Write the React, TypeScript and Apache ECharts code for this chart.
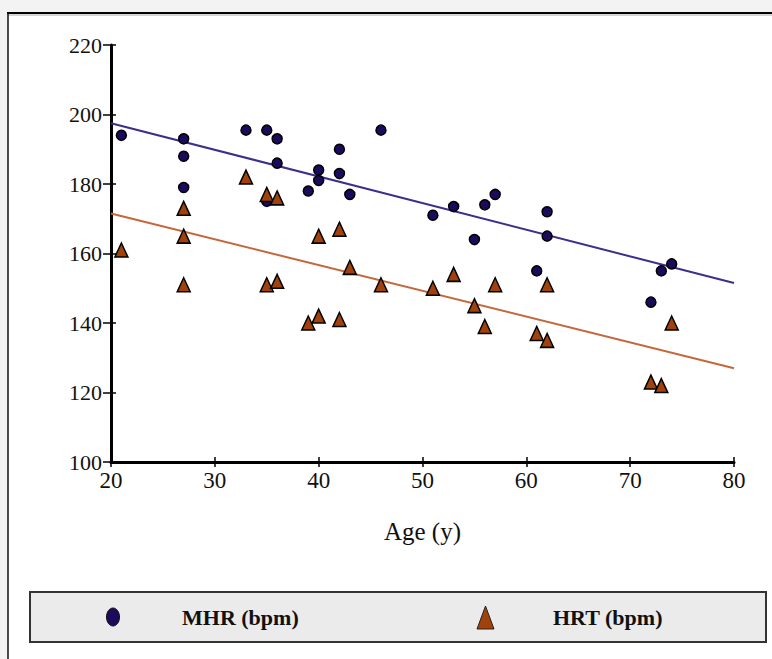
import React, { useEffect, useRef } from "react";
import * as echarts from "echarts";

const xTicks = [20, 30, 40, 50, 60, 70, 80];
const yTicks = [100, 120, 140, 160, 180, 200, 220];

const mhrAge = [21, 27, 27, 27, 33, 35, 35, 36, 36, 39, 40, 40, 42, 42, 43, 46, 51, 53, 55, 56, 57, 61, 62, 62, 72, 73, 74];
const mhrVal = [194, 193, 188, 179, 195.5, 195.5, 175, 193, 186, 178, 184, 181, 190, 183, 177, 195.5, 171, 173.5, 164, 174, 177, 155, 172, 165, 146, 155, 157];

const hrtAge = [21, 27, 27, 27, 33, 35, 35, 36, 36, 39, 40, 40, 42, 42, 43, 46, 51, 53, 55, 56, 57, 61, 62, 62, 72, 73, 74];
const hrtVal = [161, 173, 165, 151, 182, 177, 151, 176, 152, 140, 165, 142, 167, 141, 156, 151, 150, 154, 145, 139, 151, 137, 151, 135, 123, 122, 140];

const mhrTrendX = [20, 80];
const mhrTrendY = [197.5, 151.5];
const hrtTrendX = [20, 80];
const hrtTrendY = [171.5, 127];

const seriesNames = ["MHR (bpm)", "HRT (bpm)"];
const xName = "Age (y)";

const FONT = "'Liberation Serif', 'Times New Roman', serif";

export default function App() {
  const ref = useRef<HTMLDivElement>(null);
  useEffect(() => {
    if (!ref.current) return;
    const chart = echarts.init(ref.current, null, { renderer: "svg" });
    const xMin = xTicks[0];
    const xMax = xTicks[xTicks.length - 1];
    const yMin = yTicks[0];
    const yMax = yTicks[yTicks.length - 1];
    const option: any = {
      animation: false,
      backgroundColor: "#f3f3f3",
      grid: { left: 111, top: 45, width: 623, height: 417 },
      legend: { show: false },
      xAxis: [
        {
          type: "value",
          min: xMin,
          max: xMax,
          interval: 10,
          name: xName,
          nameLocation: "middle",
          nameGap: 57,
          nameTextStyle: { fontFamily: FONT, fontSize: 25, color: "#111" },
          axisLine: { show: true, onZero: false, lineStyle: { color: "#000", width: 3 } },
          axisTick: { show: true, length: 5, lineStyle: { color: "#000", width: 1.5 } },
          axisLabel: { fontFamily: FONT, fontSize: 23, color: "#111", margin: 7 },
          splitLine: { show: false },
        },
        {
          type: "value",
          position: "top",
          offset: -417,
          min: xMin,
          max: xMax,
          interval: 10,
          axisLine: { show: false, onZero: false },
          axisTick: { show: true, length: 5, lineStyle: { color: "#000", width: 1.5 } },
          axisLabel: { show: false },
          splitLine: { show: false },
        },
      ],
      yAxis: [
        {
          type: "value",
          min: yMin,
          max: yMax,
          interval: 20,
          axisLine: { show: true, onZero: false, lineStyle: { color: "#000", width: 3 } },
          axisTick: { show: true, length: 8, lineStyle: { color: "#000", width: 1.5 } },
          axisLabel: { fontFamily: FONT, fontSize: 22, color: "#111", margin: 9 },
          splitLine: { show: false },
        },
        {
          type: "value",
          position: "right",
          offset: -623,
          min: yMin,
          max: yMax,
          interval: 20,
          axisLine: { show: false, onZero: false },
          axisTick: { show: true, length: 5, lineStyle: { color: "#000", width: 1.5 } },
          axisLabel: { show: false },
          splitLine: { show: false },
        },
      ],
      series: [
        {
          name: seriesNames[0] + " trend",
          type: "line",
          data: mhrTrendX.map((x, i) => [x, mhrTrendY[i]]),
          showSymbol: false,
          symbol: "none",
          lineStyle: { color: "#3e2d8a", width: 2 },
          z: 1,
          silent: true,
        },
        {
          name: seriesNames[1] + " trend",
          type: "line",
          data: hrtTrendX.map((x, i) => [x, hrtTrendY[i]]),
          showSymbol: false,
          symbol: "none",
          lineStyle: { color: "#c4683c", width: 2 },
          z: 1,
          silent: true,
        },
        {
          name: seriesNames[0],
          type: "scatter",
          data: mhrAge.map((x, i) => [x, mhrVal[i]]),
          symbol: "circle",
          symbolSize: 10,
          itemStyle: { color: "#1c0b5c", borderColor: "#000", borderWidth: 1.5, opacity: 1 },
          z: 3,
        },
        {
          name: seriesNames[1],
          type: "scatter",
          data: hrtAge.map((x, i) => [x, hrtVal[i]]),
          symbol: "triangle",
          symbolSize: [13, 14],
          itemStyle: { color: "#a1410b", borderColor: "#000", borderWidth: 1.5, opacity: 1 },
          z: 4,
        },
      ],
      graphic: [
        {
          type: "rect",
          z: -10,
          shape: { x: 8, y: 13, width: 800, height: 700 },
          style: { fill: "#ffffff", stroke: null },
          silent: true,
        },
        {
          type: "line",
          z: -5,
          shape: { x1: 8, y1: 15, x2: 772, y2: 15 },
          style: { stroke: "#aaaaaa", lineWidth: 1 },
          silent: true,
        },
        {
          type: "line",
          z: -5,
          shape: { x1: 7, y1: 13, x2: 772, y2: 13 },
          style: { stroke: "#000", lineWidth: 2 },
          silent: true,
        },
        {
          type: "line",
          z: -5,
          shape: { x1: 8, y1: 13, x2: 8, y2: 659 },
          style: { stroke: "#111", lineWidth: 1.5 },
          silent: true,
        },
        {
          type: "group",
          z: 10,
          children: [
            {
              type: "rect",
              shape: { x: 30, y: 592, width: 736, height: 50 },
              style: { fill: "#ebebeb", stroke: "#333", lineWidth: 2 },
            },
            {
              type: "ellipse",
              shape: { cx: 113, cy: 617, rx: 6.5, ry: 9 },
              style: { fill: "#1c0b5c", stroke: "#111", lineWidth: 1 },
            },
            {
              type: "text",
              x: 182,
              y: 617,
              style: {
                text: seriesNames[0],
                fontFamily: FONT,
                fontWeight: "bold",
                fontSize: 22,
                fill: "#111",
                verticalAlign: "middle",
                align: "left",
              },
            },
            {
              type: "polygon",
              shape: { points: [[477, 629], [494, 629], [485.5, 606]] },
              style: { fill: "#a1410b", stroke: "#222", lineWidth: 1 },
            },
            {
              type: "text",
              x: 553,
              y: 617,
              style: {
                text: seriesNames[1],
                fontFamily: FONT,
                fontWeight: "bold",
                fontSize: 22,
                fill: "#111",
                verticalAlign: "middle",
                align: "left",
              },
            },
          ],
        },
      ],
    };
    chart.setOption(option);
    return () => chart.dispose();
  }, []);
  return (
    <div
      ref={ref}
      style={{ position: "fixed", left: 0, top: 0, width: 772, height: 659 }}
    />
  );
}
